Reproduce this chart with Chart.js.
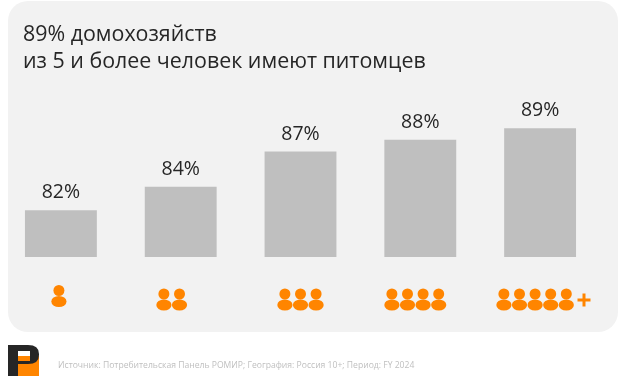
<!DOCTYPE html>
<html>
<head>
<meta charset="utf-8">
<script src="https://cdn.jsdelivr.net/npm/chart.js@4"></script>
<style>
  html, body { margin: 0; padding: 0; background: #fff; }
  #wrap { width: 624px; height: 388px; }
</style>
</head>
<body>
<div id="wrap"><canvas id="chart" width="624" height="388"></canvas></div>
<script>
const categories = ['1 человек', '2 человека', '3 человека', '4 человека', '5 и более'];
const shares = [82, 84, 87, 88, 89];
const peopleCounts = [1, 2, 3, 4, 5];
const titleLines = ['89% домохозяйств', 'из 5 и более человек имеют питомцев'];
const sourceText = 'Источник: Потребительская Панель РОМИР; География: Россия 10+; Период: FY 2024';

const ORANGE = '#ff8500';
const FONT = '"Open Sans", sans-serif';

// Panel, title, value labels, people icons, footer
const decorPlugin = {
  id: 'decor',
  beforeDraw(chart) {
    const ctx = chart.ctx;
    ctx.save();
    ctx.fillStyle = '#f2f2f2';
    ctx.beginPath();
    ctx.roundRect(8, 1, 610, 331, 20);
    ctx.fill();
    ctx.restore();
  },
  afterDraw(chart) {
    const ctx = chart.ctx;
    const meta = chart.getDatasetMeta(0);
    ctx.save();

    // title
    ctx.fillStyle = '#262626';
    ctx.font = '21.4px ' + FONT;
    ctx.textAlign = 'left';
    ctx.textBaseline = 'alphabetic';
    ctx.fillText(titleLines[0], 23, 41);
    ctx.fillText(titleLines[1], 23, 68);

    // value labels
    ctx.font = '19.5px ' + FONT;
    ctx.textAlign = 'center';
    meta.data.forEach((bar, i) => {
      ctx.fillText(shares[i] + '%', bar.x, bar.y - 12);
    });

    // people icons
    const iconShift = [-2, -9, 0, -5, -5];
    ctx.fillStyle = ORANGE;
    meta.data.forEach((bar, i) => {
      const n = peopleCounts[i];
      const cx = bar.x + iconShift[i];
      const top = n === 1 ? 290.5 : 294;
      for (let k = 0; k < n; k++) {
        const x = cx + (k - (n - 1) / 2) * 15.6;
        ctx.beginPath();
        ctx.arc(x, top, 5.5, 0, Math.PI * 2);
        ctx.fill();
        ctx.beginPath();
        ctx.ellipse(x, top + 11, 7.6, 5.6, 0, 0, Math.PI * 2);
        ctx.fill();
      }
    });
    ctx.fillRect(577.5, 298.5, 13, 3);
    ctx.fillRect(582.5, 293.5, 3, 13);

    // logo
    ctx.fillStyle = ORANGE;
    ctx.fillRect(18, 356, 21, 20);
    ctx.fillStyle = '#262626';
    ctx.beginPath();
    ctx.moveTo(8, 345);
    ctx.lineTo(28, 345);
    ctx.quadraticCurveTo(39, 345, 39, 354);
    ctx.lineTo(39, 355);
    ctx.quadraticCurveTo(39, 364, 28, 364);
    ctx.lineTo(18, 364);
    ctx.lineTo(18, 376);
    ctx.lineTo(8, 376);
    ctx.closePath();
    ctx.fill();
    ctx.fillStyle = '#fff';
    ctx.fillRect(18, 351, 12, 5);
    ctx.fillStyle = ORANGE;
    ctx.fillRect(18, 356, 12, 5);

    // source
    ctx.fillStyle = '#bfbfbf';
    ctx.font = '8.6px ' + FONT;
    ctx.textAlign = 'left';
    ctx.fillText(sourceText, 58, 368);
    ctx.restore();
  }
};

new Chart(document.getElementById('chart'), {
  type: 'bar',
  data: {
    labels: categories,
    datasets: [{
      data: shares,
      backgroundColor: '#bfbfbf',
      borderWidth: 0,
      barPercentage: 0.6,
      categoryPercentage: 1
    }]
  },
  options: {
    responsive: false,
    animation: false,
    layout: { padding: { left: 1, right: 24, top: 93, bottom: 131 } },
    plugins: { legend: { display: false }, tooltip: { enabled: false } },
    scales: {
      x: { display: false },
      y: { display: false, min: 78, max: 92 }
    }
  },
  plugins: [decorPlugin]
});
</script>
</body>
</html>
